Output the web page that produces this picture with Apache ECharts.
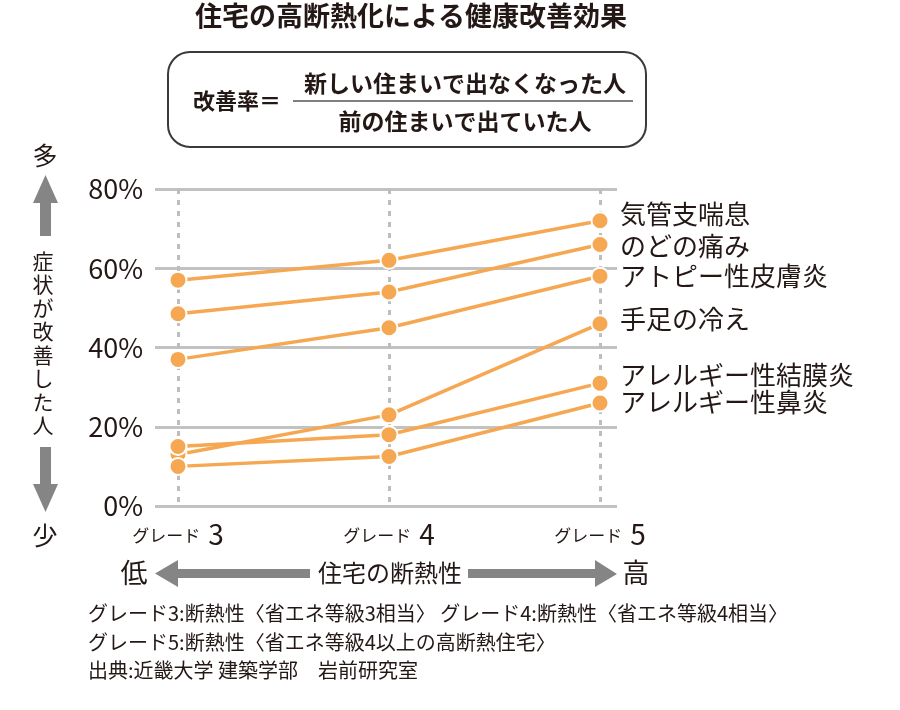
<!DOCTYPE html>
<html lang="ja">
<head>
<meta charset="UTF-8">
<title>住宅の高断熱化による健康改善効果</title>
<script src="https://cdn.jsdelivr.net/npm/echarts@6.0.0/dist/echarts.min.js"></script>
<style>
  html, body { margin: 0; padding: 0; background: #fff; }
  #main { width: 900px; height: 710px; }
</style>
</head>
<body>
<div id="main"></div>
<script>
// データ
var grades = ['3', '4', '5'];
var yTicks = ['0%', '20%', '40%', '60%', '80%'];
var names = ['気管支喘息', 'のどの痛み', 'アトピー性皮膚炎', '手足の冷え', 'アレルギー性結膜炎', 'アレルギー性鼻炎'];
var asthma = [57, 62, 72];
var throat = [48.5, 54, 66];
var atopy = [37, 45, 58];
var coldHands = [13, 23, 46];
var conjunctivitis = [15, 18, 31];
var rhinitis = [10, 12.5, 26];
var values = [asthma, throat, atopy, coldHands, conjunctivitis, rhinitis];
// ラベルの上下ずらし
var labelShift = [-7, 2, 0, -5, -8, -1];

var FONT = '"Noto Sans CJK JP", "Noto Sans", sans-serif';
var ORANGE = '#F5A752';
var TXT = '#231815';

var charts = echarts.init(document.getElementById('main'));

var series = names.map(function (n, i) {
    return {
        name: n,
        type: 'line',
        xAxisIndex: 1,
        yAxisIndex: 1,
        data: values[i],
        symbol: 'circle',
        symbolSize: 17,
        lineStyle: { color: ORANGE, width: 3.5 },
        itemStyle: { color: ORANGE, borderColor: '#fff', borderWidth: 2 },
        z: 5,
        endLabel: {
            show: true,
            formatter: '{a}',
            distance: 20,
            offset: [0, labelShift[i]],
            fontFamily: FONT,
            fontSize: 26,
            color: TXT
        }
    };
});

function txt(x, y, text, size, opt) {
    opt = opt || {};
    return {
        type: 'text',
        x: x, y: y,
        style: {
            text: text,
            font: (opt.bold ? 'bold ' : '') + size + 'px ' + FONT,
            fill: opt.fill || TXT,
            textAlign: opt.align || 'center',
            textVerticalAlign: 'middle',
            lineHeight: opt.lineHeight
        }
    };
}

var options = {
    animation: false,
    backgroundColor: '#fff',
    grid: [
        { left: 155, right: 283, top: 189, bottom: 204 },
        { left: 178, right: 300, top: 189, bottom: 204 }
    ],
    xAxis: [
        { type: 'value', gridIndex: 0, min: 0, max: 1, show: false },
        {
            type: 'category', gridIndex: 1, data: grades, boundaryGap: false,
            axisLine: { show: false }, axisTick: { show: false },
            splitLine: { show: true, lineStyle: { color: '#bdbdbd', width: 3, type: [5, 6] } },
            axisLabel: {
                margin: 14,
                formatter: function (v) { return '{g|グレード}{n|' + v + '}'; },
                rich: {
                    g: { fontFamily: FONT, fontSize: 17, color: TXT, padding: [4, 8, 0, 0] },
                    n: { fontFamily: FONT, fontSize: 28, color: TXT }
                }
            }
        }
    ],
    yAxis: [
        {
            type: 'value', gridIndex: 0, min: 0, max: 80, interval: 20,
            axisLine: { show: false }, axisTick: { show: false },
            splitLine: { lineStyle: { color: '#c2c2c2', width: 3 } },
            axisLabel: {
                margin: 12,
                fontFamily: FONT, fontSize: 27, color: TXT,
                formatter: function (v) { return yTicks[v / 20]; }
            }
        },
        { type: 'value', gridIndex: 1, min: 0, max: 80, show: false }
    ],
    series: series,
    graphic: [
        txt(411, 16, '住宅の高断熱化による健康改善効果', 27, { bold: true }),
        {
            type: 'rect',
            shape: { x: 168, y: 52, width: 478, height: 95, r: 22 },
            style: { fill: 'none', stroke: '#3a3a3a', lineWidth: 2 }
        },
        txt(193, 101, '改善率＝', 22, { bold: true, align: 'left' }),
        txt(465, 83, '新しい住まいで出なくなった人', 23, { bold: true }),
        {
            type: 'line',
            shape: { x1: 293, y1: 101, x2: 633, y2: 101 },
            style: { stroke: '#555', lineWidth: 1.5 }
        },
        txt(465, 121, '前の住まいで出ていた人', 23, { bold: true }),

        // 縦の矢印と見出し
        txt(45, 155, '多', 25),
        {
            type: 'polygon',
            shape: { points: [[45.5, 175], [58, 203], [51, 203], [51, 236], [40, 236], [40, 203], [33, 203]] },
            style: { fill: '#858585' }
        },
        txt(43, 343, '症\n状\nが\n改\n善\nし\nた\n人', 21, { lineHeight: 23.5 }),
        {
            type: 'polygon',
            shape: { points: [[40, 447], [51, 447], [51, 484], [58, 484], [45.5, 512], [33, 484], [40, 484]] },
            style: { fill: '#858585' }
        },
        txt(45, 535, '少', 25),

        // 横の矢印と見出し
        txt(134, 573, '低', 27),
        {
            type: 'polygon',
            shape: { points: [[155, 573.5], [178, 560], [178, 569], [310, 569], [310, 578], [178, 578], [178, 587]] },
            style: { fill: '#858585' }
        },
        txt(390, 573, '住宅の断熱性', 24),
        {
            type: 'polygon',
            shape: { points: [[468, 569], [595, 569], [595, 560], [617, 574], [595, 587], [595, 578], [468, 578]] },
            style: { fill: '#858585' }
        },
        txt(636, 573, '高', 27),

        // 注記
        txt(88, 613, 'グレード3:断熱性〈省エネ等級3相当〉 グレード4:断熱性〈省エネ等級4相当〉', 20, { align: 'left' }),
        txt(88, 642, 'グレード5:断熱性〈省エネ等級4以上の高断熱住宅〉', 20, { align: 'left' }),
        txt(88, 670, '出典:近畿大学 建築学部　岩前研究室', 20, { align: 'left' })
    ]
};

charts.setOption(options);
</script>
</body>
</html>
